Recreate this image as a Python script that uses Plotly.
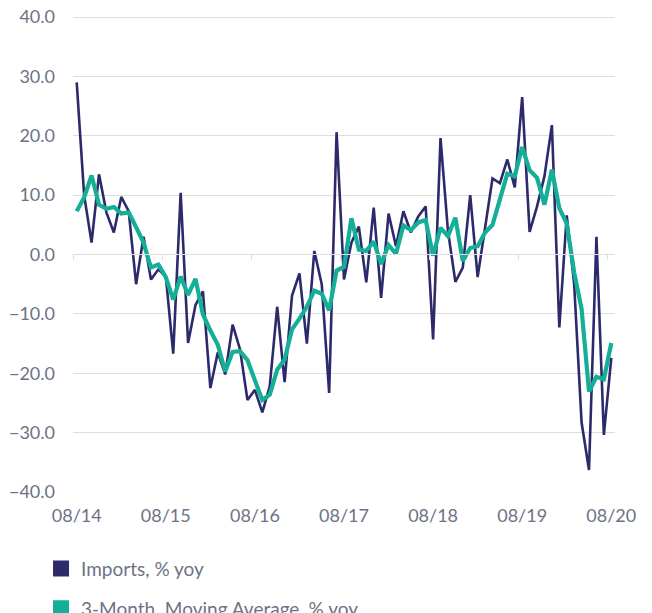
import plotly.graph_objects as go

month_labels = ["08/14", "08/15", "08/16", "08/17", "08/18", "08/19", "08/20"]

imports_yoy = [
    29.0, 10.0, 2.0, 13.5, 7.1, 3.7, 9.7, 7.3, -5.0, 3.0, -4.2, -2.5,
    -3.7, -16.7, 10.4, -14.9, -8.5, -6.2, -22.5, -16.5, -20.2, -11.8, -16.0, -24.5,
    -22.8, -26.6, -22.2, -8.8, -21.5, -6.9, -3.2, -15.0, 0.6, -5.0, -23.3, 20.6,
    -4.2, 2.0, 4.7, -4.7, 7.9, -7.3, 6.9, 1.4, 7.3, 3.7, 6.4, 8.1,
    -14.3, 19.6, 4.0, -4.6, -2.2, 10.0, -3.8, 4.2, 12.8, 12.0, 16.0, 11.3,
    26.5, 3.8, 8.1, 13.2, 21.8, -12.3, 6.6, -5.0, -28.3, -36.3, 3.0, -30.4,
    -17.4,
]

moving_avg_3m = [
    7.3, 9.6, 13.3, 8.4, 7.7, 8.0, 6.9, 7.1, 4.6, 2.0, -2.2, -1.7,
    -3.8, -7.6, -3.7, -6.8, -4.1, -10.1, -12.8, -15.2, -19.7, -16.4, -16.3, -17.8,
    -21.2, -24.5, -23.6, -19.4, -17.7, -12.6, -10.8, -8.8, -6.1, -6.6, -9.4, -2.7,
    -2.1, 6.1, 0.8, 0.6, 2.2, -1.6, 1.6, 0.1, 4.9, 4.1, 5.4, 5.8,
    -0.2, 4.5, 3.1, 6.2, -1.1, 1.1, 1.4, 3.7, 5.0, 9.5, 13.6, 13.2,
    18.1, 14.2, 12.9, 8.4, 14.3, 7.8, 5.2, -3.0, -9.2, -23.1, -20.6, -21.0,
    -14.9,
]

y_ticks = [40, 30, 20, 10, 0, -10, -20, -30, -40]

NAVY = "#2d2a6c"
TEAL = "#15ae97"
TEXT = "#6d7286"
GRID = "#dedede"
FONT = "Lato"

n = len(imports_yoy)
x = list(range(n))
label_pos = [12 * k for k in range(len(month_labels))]
boundary_ticks = [12 * k - 0.5 for k in range(len(month_labels))]

fig = go.Figure()
fig.add_trace(go.Scatter(x=x, y=imports_yoy, mode="lines",
                         line=dict(color=NAVY, width=2.6), showlegend=False))
fig.add_trace(go.Scatter(x=x, y=moving_avg_3m, mode="lines",
                         line=dict(color=TEAL, width=4.2), showlegend=False))
# legend entries (square swatches)
fig.add_trace(go.Scatter(x=[None], y=[None], mode="markers", name="Imports, % yoy",
                         marker=dict(symbol="square", size=18, color=NAVY),
                         legendgroup="a"))
fig.add_trace(go.Scatter(x=[None], y=[None], mode="markers",
                         name="3-Month  Moving Average, % yoy",
                         marker=dict(symbol="square", size=18, color=TEAL),
                         legendgroup="b"))
# axis line with ticks at zero
fig.add_trace(go.Scatter(x=[None], y=[None], xaxis="x2", showlegend=False))

fig.update_layout(
    width=652, height=613,
    margin=dict(l=65, r=45, t=8, b=129, autoexpand=False),
    paper_bgcolor="white", plot_bgcolor="white",
    font=dict(family=FONT, color=TEXT, size=16),
    xaxis=dict(range=[-0.5, n - 0.5], tickvals=label_pos, ticktext=month_labels,
               showgrid=False, zeroline=False, showline=False, ticks="",
               tickangle=0, automargin=False, ticklabeloverflow="allow",
               tickfont=dict(size=18, color=TEXT), ticklabelstandoff=11),
    xaxis2=dict(range=[-0.5, n - 0.5], overlaying="x", anchor="free", position=0.5,
                side="bottom", tickvals=boundary_ticks, showticklabels=False,
                ticks="outside", ticklen=5, tickcolor=GRID, showline=True,
                linecolor=GRID, linewidth=1, showgrid=False, zeroline=False),
    yaxis=dict(range=[-40, 40.17], tickvals=y_ticks, tickformat=".1f",
               showgrid=True, gridcolor=GRID, gridwidth=1, zeroline=False,
               showline=False, ticks="", tickfont=dict(size=18, color=TEXT),
               automargin=False, ticklabelstandoff=17, ticklabeloverflow="allow"),
    legend=dict(orientation="v", x=-0.059, y=-0.121, xanchor="left", yanchor="top",
                tracegroupgap=12,
                font=dict(size=19, color=TEXT), itemsizing="trace",
                bgcolor="rgba(0,0,0,0)"),
)

fig.write_html("out.html")
